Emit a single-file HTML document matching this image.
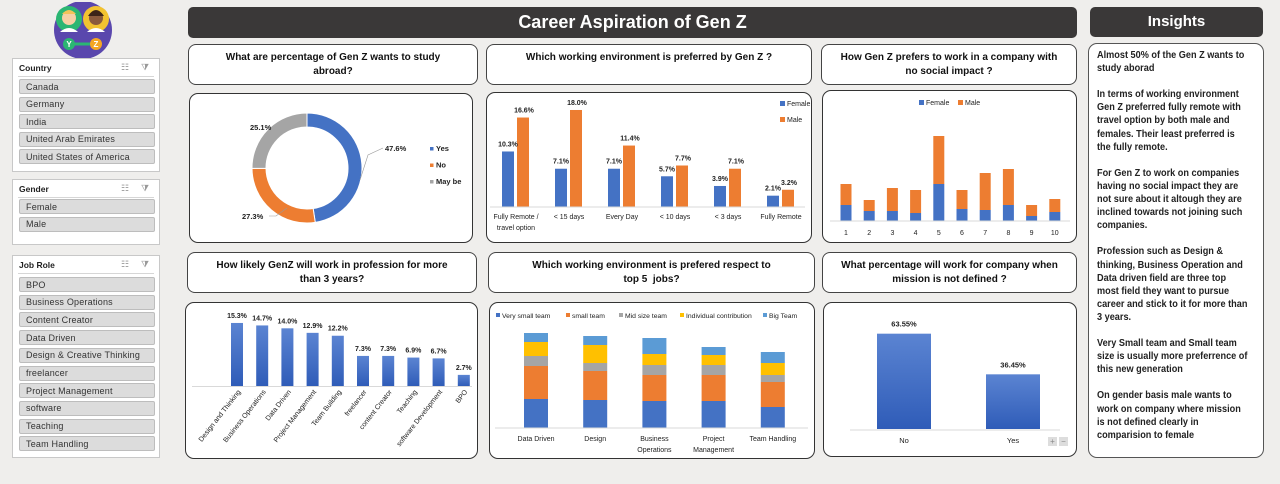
<!DOCTYPE html>
<html><head><meta charset="utf-8">
<style>
*{box-sizing:border-box;margin:0;padding:0}
body{width:1280px;height:484px;background:#efeeec;position:relative;overflow:hidden;font-family:"Liberation Sans",sans-serif;color:#222}
.abs{position:absolute}
.slicer{position:absolute;background:#fff;border:1px solid #c8c8c8}
.slicer .t{position:absolute;left:6px;top:4px;font-size:8.5px;font-weight:bold;color:#222}
.slicer .line{position:absolute;left:5px;right:5px;top:17px;border-top:1px solid #d6d6d6}
.slicer .ic{position:absolute;top:3px;font-size:9px;color:#999}
.item{position:absolute;left:6px;width:136px;height:15px;background:#dcdcdc;border:1px solid #bdbdbd;border-radius:2px;font-size:9px;color:#333;padding:1.5px 0 0 6px;letter-spacing:.2px}
.hdr{position:absolute;background:#fff;border:1px solid #444;border-radius:8px;text-align:center;font-weight:bold;font-size:10px;line-height:14px;padding-top:6px;color:#111}
.frame{position:absolute;background:#fff;border:1px solid #333;border-radius:9px}
.dark{position:absolute;background:#3a3838;border-radius:5px;color:#fff;font-weight:bold;text-align:center}
svg text{font-family:"Liberation Sans",sans-serif}
</style></head><body>
<div class="abs" style="left:52px;top:2px;width:62px;height:56px">
<svg width="62" height="56"><circle cx="31" cy="28" r="29" fill="#5a47ad"/><circle cx="17" cy="17" r="13" fill="#2bb673"/><circle cx="44" cy="17" r="13" fill="#f2c230"/><circle cx="17" cy="16" r="7" fill="#f7d0a5"/><path d="M10 12 Q17 4 24 12" fill="#f3c35a"/><circle cx="44" cy="16" r="7" fill="#8b5a3c"/><path d="M36 14 Q44 2 52 14" fill="#3d2418"/><path d="M8 30 Q17 22 26 30Z" fill="#fff"/><path d="M35 30 Q44 22 53 30Z" fill="#fff"/><line x1="17" y1="42" x2="44" y2="42" stroke="#2bb673" stroke-width="3"/><circle cx="17" cy="42" r="6" fill="#2bb673"/><circle cx="44" cy="42" r="6" fill="#f5a623"/><text x="17" y="45" font-size="8" fill="#fff" text-anchor="middle" font-weight="bold">Y</text><text x="44" y="45" font-size="8" fill="#fff" text-anchor="middle" font-weight="bold">Z</text></svg></div>

<div class="slicer" style="left:12px;top:58px;width:148px;height:114px">
<div class="t">Country</div>
<div class="ic" style="left:108px">☷</div><div class="ic" style="left:128px">⧩</div>
<div class="line"></div>
<div class="item" style="top:20px">Canada</div>
<div class="item" style="top:37.5px">Germany</div>
<div class="item" style="top:55px">India</div>
<div class="item" style="top:72.5px">United Arab Emirates</div>
<div class="item" style="top:90px">United States of America</div>
</div>

<div class="slicer" style="left:12px;top:179px;width:148px;height:66px">
<div class="t">Gender</div>
<div class="ic" style="left:108px">☷</div><div class="ic" style="left:128px">⧩</div>
<div class="line"></div>
<div class="item" style="top:19px">Female</div>
<div class="item" style="top:36.5px">Male</div>
</div>

<div class="slicer" style="left:12px;top:255px;width:148px;height:203px">
<div class="t">Job Role</div>
<div class="ic" style="left:108px">☷</div><div class="ic" style="left:128px">⧩</div>
<div class="line"></div>
<div class="item" style="top:21px">BPO</div>
<div class="item" style="top:38.7px">Business Operations</div>
<div class="item" style="top:56.4px">Content Creator</div>
<div class="item" style="top:74.1px">Data Driven</div>
<div class="item" style="top:91.8px">Design &amp; Creative Thinking</div>
<div class="item" style="top:109.5px">freelancer</div>
<div class="item" style="top:127.2px">Project Management</div>
<div class="item" style="top:144.9px">software</div>
<div class="item" style="top:162.6px">Teaching</div>
<div class="item" style="top:180.3px">Team Handling</div>
</div>

<div class="dark" style="left:188px;top:7px;width:889px;height:31px;font-size:18px;line-height:31px">Career Aspiration of Gen Z</div>
<div class="dark" style="left:1090px;top:7px;width:173px;height:30px;font-size:15px;line-height:30px">Insights</div>

<div class="frame" style="left:1088px;top:43px;width:176px;height:415px;border-color:#555">
<div style="position:absolute;left:8px;top:5px;width:200px;font-size:10.4px;font-weight:bold;line-height:13.1px;color:#222;transform:scaleX(0.88);transform-origin:0 0;white-space:nowrap">Almost 50% of the Gen Z wants to<br>study aborad<br><br>In terms of working environment<br>Gen Z preferred fully remote with<br>travel option by both male and<br>females. Their least preferred is<br>the fully remote.<br><br>For Gen Z to work on companies<br>having no social impact they are<br>not sure about it altough they are<br>inclined towards not joining such<br>companies.<br><br>Profession such as Design &amp;<br>thinking, Business Operation and<br>Data driven field are three top<br>most field they want to pursue<br>career and stick to it for more than<br>3 years.<br><br>Very Small team and Small team<br>size is usually more preferrence of<br>this new generation<br><br>On gender basis male wants to<br>work on company where mission<br>is not defined clearly in<br>comparision to female</div>
</div>

<div class="hdr" style="left:188px;top:44px;width:290px;height:41px">What are percentage of Gen Z wants to study<br>abroad?</div>
<div class="hdr" style="left:486px;top:44px;width:326px;height:41px">Which working environment is preferred by Gen Z ?</div>
<div class="hdr" style="left:821px;top:44px;width:256px;height:41px">How Gen Z prefers to work in a company with<br>no social impact ?</div>
<div class="hdr" style="left:187px;top:252px;width:290px;height:41px">How likely GenZ will work in profession for more<br>than 3 years?</div>
<div class="hdr" style="left:488px;top:252px;width:327px;height:41px">Which working environment is prefered respect to<br>top 5&nbsp; jobs?</div>
<div class="hdr" style="left:822px;top:252px;width:255px;height:41px">What percentage will work for company when<br>mission is not defined ?</div>

<div class="frame" style="left:189px;top:93px;width:284px;height:150px"></div>
<div class="frame" style="left:486px;top:92px;width:326px;height:151px"></div>
<div class="frame" style="left:822px;top:90px;width:255px;height:153px"></div>
<div class="frame" style="left:185px;top:302px;width:293px;height:157px"></div>
<div class="frame" style="left:489px;top:302px;width:326px;height:157px"></div>
<div class="frame" style="left:823px;top:302px;width:254px;height:155px"></div>

<svg id="charts" class="abs" style="left:0;top:0" width="1280" height="484">
<defs><linearGradient id="bg" x1="0" y1="0" x2="0" y2="1"><stop offset="0" stop-color="#5b84d2"/><stop offset="1" stop-color="#2f5cb8"/></linearGradient></defs>
</svg>

<script>
// Donut
const donutCats = ["Yes","No","May be"];
const donutVals = [47.6, 27.3, 25.1];
// Working environment
const envCats = ["Fully Remote /|travel option","< 15 days","Every Day","< 10 days","< 3 days","Fully Remote"];
const envFemale = [10.3, 7.1, 7.1, 5.7, 3.9, 2.1];
const envMale = [16.6, 18.0, 11.4, 7.7, 7.1, 3.2];
// Social impact
const impactCats = ["1","2","3","4","5","6","7","8","9","10"];
const impactFemale = [16, 10, 10, 8, 37, 12, 11, 16, 5, 9];
const impactMale = [21, 11, 23, 23, 48, 19, 37, 36, 11, 13];
// Profession
const profCats = ["Design and Thinking","Business Operations","Data Driven","Project Management","Team Building","freelancer","content Creator","Teaching","software Development","BPO"];
const profVals = [15.3, 14.7, 14.0, 12.9, 12.2, 7.3, 7.3, 6.9, 6.7, 2.7];
// Team environment
const teamCats = ["Data Driven","Design","Business|Operations","Project|Management","Team Handling"];
const teamSeries = ["Very small team","small team","Mid size team","Individual contribution","Big Team"];
const teamVerySmall = [29, 28, 27, 27, 21];
const teamSmall = [33, 29, 26, 26, 25];
const teamMid = [10, 8, 10, 10, 7];
const teamIndiv = [14, 18, 11, 10, 12];
const teamBig = [9, 9, 16, 8, 11];
// Mission
const missionCats = ["No","Yes"];
const missionVals = [63.55, 36.45];

const NS = "http://www.w3.org/2000/svg";
const svg = document.getElementById("charts");
function mk(tag, attrs, parent){ const e=document.createElementNS(NS,tag); for(const k in attrs) e.setAttribute(k,attrs[k]); (parent||svg).appendChild(e); return e; }
function txt(x,y,s,attrs){ const t=mk("text",Object.assign({x:x,y:y,"font-size":7.5,fill:"#222"},attrs||{})); t.textContent=s; return t; }
const BLUE="#4472c4", ORANGE="#ed7d31", GRAY="#a5a5a5", YEL="#ffc000", LBLUE="#5b9bd5";

// ---- Donut ----
(function(){
  const cx=307, cy=168, R=55, r=41;
  const total=donutVals.reduce((a,b)=>a+b,0);
  const cols=[BLUE,ORANGE,GRAY];
  let a0=-Math.PI/2;
  const lblPos=[[385,151],[242,219],[250,130]];
  donutVals.forEach((v,i)=>{
    const a1=a0+v/total*2*Math.PI;
    const p=(rad,a)=>[cx+rad*Math.cos(a), cy+rad*Math.sin(a)];
    const [x0,y0]=p(R,a0),[x1,y1]=p(R,a1),[x2,y2]=p(r,a1),[x3,y3]=p(r,a0);
    const lg=(a1-a0)>Math.PI?1:0;
    const path=mk("path",{d:`M${x0} ${y0} A${R} ${R} 0 ${lg} 1 ${x1} ${y1} L${x2} ${y2} A${r} ${r} 0 ${lg} 0 ${x3} ${y3}Z`,fill:cols[i],stroke:"#fff","stroke-width":1});
    
    
    const t=txt(lblPos[i][0],lblPos[i][1],v.toFixed(1)+"%",{"font-weight":"bold","font-size":7.5});
    
    
    a0=a1;
  });
  mk("polyline",{points:"360,180 368,155 383,148",fill:"none",stroke:"#999","stroke-width":0.6});
  mk("polyline",{points:"269,216 276,216 287,208",fill:"none",stroke:"#999","stroke-width":0.6});
  donutCats.forEach((c,i)=>{
    const y=151+i*16.5;
    const sw=mk("rect",{x:430,y:y-4,width:3.5,height:3.5,fill:cols[i]});
    
    
    const t=txt(436,y,c,{"font-weight":"bold","font-size":7.5});
    
    
  });
})();

// ---- Working environment ----
(function(){
  const base=207, k=5.39, x0=516, step=53;
  const y=v=>base-v*k;
  envCats.forEach((c,i)=>{
    const cx=x0+i*step;
    const fb=mk("rect",{x:cx-14,y:y(envFemale[i]),width:12,height:envFemale[i]*k,fill:BLUE});
    
    
    const mb=mk("rect",{x:cx+1,y:y(envMale[i]),width:12,height:envMale[i]*k,fill:ORANGE});
    
    
    txt(cx-8,y(envFemale[i])-5,envFemale[i].toFixed(1)+"%",{"text-anchor":"middle","font-weight":"bold","font-size":7});
    txt(cx+8,y(envMale[i])-5,envMale[i].toFixed(1)+"%",{"text-anchor":"middle","font-weight":"bold","font-size":7});
    c.split("|").forEach((l,j)=>{ const t=txt(cx,219+j*11,l,{"text-anchor":"middle","font-size":7});
      
       });
  });
  mk("line",{x1:490,y1:base,x2:805,y2:base,stroke:"#d9d9d9","stroke-width":1});
  [["Female",BLUE,106],["Male",ORANGE,122]].forEach(([n,c,yy])=>{
    mk("rect",{x:780,y:yy-5,width:5,height:5,fill:c});
    const t=txt(787,yy,n,{"font-size":7});
    
    
  });
})();

// ---- Social impact stacked ----
(function(){
  const base=221, k=1, x0=846, step=23.2, w=11;
  impactCats.forEach((c,i)=>{
    const cx=x0+i*step;
    const f=impactFemale[i]*k, m=impactMale[i]*k;
    const fb=mk("rect",{x:cx-w/2,y:base-f,width:w,height:f,fill:BLUE});
    
    
    const mb=mk("rect",{x:cx-w/2,y:base-f-m,width:w,height:m,fill:ORANGE});
    
    
    const t=txt(cx,235,c,{"text-anchor":"middle","font-size":7});
    
    
  });
  mk("line",{x1:830,y1:base,x2:1070,y2:base,stroke:"#d9d9d9","stroke-width":1});
  [["Female",BLUE,919],["Male",ORANGE,958]].forEach(([n,c,xx])=>{
    mk("rect",{x:xx,y:100,width:5,height:5,fill:c});
    const t=txt(xx+7,105,n,{"font-size":7});
    
    
  });
})();

// ---- Profession ----
(function(){
  const base=386, k=4.12, x0=237, step=25.2, w=12;
  profCats.forEach((c,i)=>{
    const cx=x0+i*step, h=profVals[i]*k;
    const b=mk("rect",{x:cx-w/2,y:base-h,width:w,height:h,fill:"url(#bg)"});
    
    
    txt(cx,base-h-5,profVals[i].toFixed(1)+"%",{"text-anchor":"middle","font-weight":"bold","font-size":7});
    const t=txt(cx+4,392,c,{"text-anchor":"end","font-size":7,transform:`rotate(-52 ${cx+4} 392)`});
    
    
  });
  mk("line",{x1:192,y1:base+0.5,x2:472,y2:base+0.5,stroke:"#d9d9d9","stroke-width":1});
})();

// ---- Team environment stacked ----
(function(){
  const base=428, k=1, x0=536, step=59.2, w=24;
  const series=[teamVerySmall,teamSmall,teamMid,teamIndiv,teamBig];
  const cols=[BLUE,ORANGE,GRAY,YEL,LBLUE];
  teamCats.forEach((c,i)=>{
    const cx=x0+i*step; let acc=0;
    series.forEach((s,j)=>{
      const h=s[i]*k;
      const r=mk("rect",{x:cx-w/2,y:base-acc-h,width:w,height:h,fill:cols[j]});
      
      
      acc+=h;
    });
    c.split("|").forEach((l,j)=>{ const t=txt(cx,441+j*11,l,{"text-anchor":"middle","font-size":7});
      
       });
  });
  mk("line",{x1:495,y1:base,x2:808,y2:base,stroke:"#d9d9d9","stroke-width":1});
  const lx=[496,566,619,680,763];
  teamSeries.forEach((n,j)=>{
    mk("rect",{x:lx[j],y:313,width:4,height:4,fill:cols[j]});
    const t=txt(lx[j]+6,318,n,{"font-size":6.8});
    
    
  });
})();

// ---- Mission ----
(function(){
  const base=429, k=1.5, x0=904, step=109, w=54;
  missionCats.forEach((c,i)=>{
    const cx=x0+i*step, h=missionVals[i]*k;
    const b=mk("rect",{x:cx-w/2,y:base-h,width:w,height:h,fill:"url(#bg)"});
    
    
    txt(cx,base-h-7,missionVals[i].toFixed(2)+"%",{"text-anchor":"middle","font-weight":"bold","font-size":7.5});
    const t=txt(cx,443,c,{"text-anchor":"middle","font-size":7.5});
    
    
  });
  mk("line",{x1:850,y1:base+1,x2:1060,y2:base+1,stroke:"#d9d9d9","stroke-width":1});
  const p=mk("rect",{x:1048,y:437,width:9,height:9,fill:"#ddd"});
  
  
  txt(1052.5,444,"+",{"text-anchor":"middle","font-size":8,fill:"#888"});
  const m=mk("rect",{x:1059,y:437,width:9,height:9,fill:"#ddd"});
  
  
  txt(1063.5,444,"−",{"text-anchor":"middle","font-size":8,fill:"#888"});
})();
</script>
</body></html>
